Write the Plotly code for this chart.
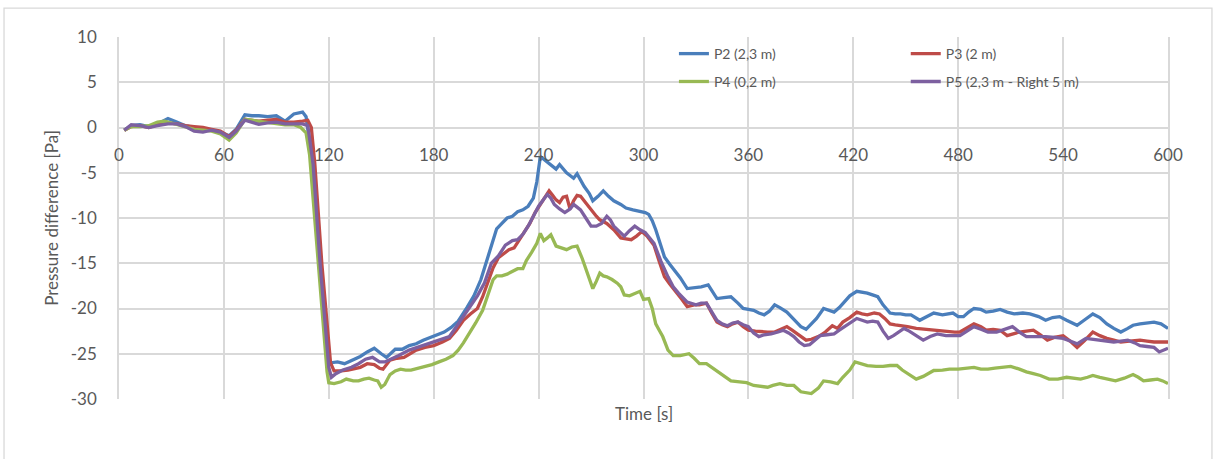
import plotly.graph_objects as go

# ---------------- data ----------------
t_p2 = [3, 7, 12, 17, 22, 28, 33, 38, 43, 48, 53, 58, 63, 67, 72, 76, 80, 85, 90, 95, 100, 105, 107, 110, 114, 119,
        121, 125, 129, 134, 138, 142, 146, 150, 153, 158, 162, 166, 170, 174, 178, 182, 186, 190, 194, 199, 203, 207,
        210, 213, 216, 219, 222, 225, 228, 231, 234, 237, 239, 241, 243, 246, 248, 250, 252, 254, 256, 258, 260, 262,
        264, 266, 269, 271, 274, 277, 280, 283, 287, 290, 294, 298, 301, 303, 305, 307, 310, 312, 315, 318, 321, 325,
        329, 333, 337, 340, 342, 346, 350, 354, 357, 360, 363, 366, 369, 372, 375, 378, 382, 386, 390, 393, 396, 399,
        403, 406, 409, 412, 415, 418, 422, 425, 428, 431, 434, 437, 441, 444, 447, 450, 453, 458, 462, 466, 471, 474,
        477, 480, 483, 486, 489, 493, 496, 500, 504, 508, 512, 517, 521, 526, 530, 534, 538, 542, 545, 548, 552, 557,
        561, 565, 569, 573, 577, 580, 584, 588, 592, 596, 600]
p2 = [-0.3, 0.2, 0.3, 0.1, 0.4, 1.0, 0.6, 0.2, 0.0, -0.3, -0.3, -0.5, -0.9, -0.2, 1.4, 1.3, 1.3, 1.2, 1.3, 0.7, 1.5,
      1.7, 1.2, -3.0, -14.0, -25.5,
      -26.0, -25.9, -26.1, -25.7, -25.3, -24.8, -24.4, -25.0, -25.4, -24.5, -24.5, -24.1, -23.9, -23.5, -23.2, -22.9,
      -22.6, -22.1, -21.4, -19.9, -18.6, -16.8,
      -15.0, -13.0, -11.2, -10.6, -10.0, -9.8, -9.3, -9.1, -8.7, -7.8, -6.0, -3.2, -3.5, -3.9, -4.3, -4.6, -4.1, -4.6,
      -5.0, -5.3, -5.6, -5.1,
      -5.8, -6.5, -7.3, -8.1, -7.6, -7.0, -7.6, -8.1, -8.5, -8.9, -9.1, -9.3, -9.4, -9.6, -10.3, -11.3, -13.0, -14.3,
      -15.1, -15.8, -16.6, -17.8,
      -17.7, -17.6, -17.4, -18.3, -18.9, -18.8, -18.7, -19.4, -20.0, -20.1, -20.2, -20.5, -20.7, -20.3, -19.6, -19.9,
      -20.4, -21.2, -22.0, -22.3, -21.7, -21.1,
      -20.0, -20.2, -20.4, -19.9, -19.3, -18.6, -18.1, -18.2, -18.3, -18.5, -18.7, -19.6, -20.5, -20.6, -20.6, -20.7,
      -20.7, -21.3, -20.9, -20.5, -20.7, -20.6,
      -20.5, -20.9, -20.9, -20.4, -20.0, -20.1, -20.4, -20.3, -20.1, -20.4, -20.6, -20.5, -20.6, -20.9, -21.3, -21.0,
      -20.9, -21.3, -21.6, -21.85, -21.3, -20.6,
      -21.0, -21.7, -22.2, -22.6, -22.2, -21.85, -21.7, -21.6, -21.5, -21.7, -22.2]

t_p3 = [3, 7, 12, 17, 22, 28, 33, 38, 43, 48, 53, 58, 63, 67, 72, 76, 80, 85, 90, 95, 100, 105, 108, 110, 112, 116,
        121, 123, 127, 131, 135, 138, 142, 146, 149, 151, 155, 159, 163, 167, 170, 175, 180, 185, 189, 193, 197, 201,
        205, 208, 211, 214, 217, 220, 223, 226, 229, 232, 235, 238, 241, 244, 246, 248, 250, 252, 254, 256, 258, 260,
        262, 264, 266, 268, 271, 273, 275, 279, 283, 287, 290, 293, 296, 299, 302, 306, 309, 312, 315, 318, 322, 325,
        329, 332, 336, 339, 342, 345, 348, 351, 354, 357, 360, 364, 368, 371, 375, 379, 382, 385, 388, 391, 393, 396,
        401, 404, 408, 411, 414, 418, 422, 425, 428, 432, 435, 438, 441, 444, 447, 451, 456, 461, 466, 470, 474, 478,
        481, 485, 489, 493, 496, 500, 504, 508, 512, 515, 519, 523, 527, 531, 535, 540, 544, 548, 552, 557, 561, 565,
        569, 573, 578, 584, 588, 592, 596, 600]
p3 = [-0.3, 0.1, 0.2, 0.0, 0.3, 0.5, 0.4, 0.2, 0.1, 0.0, -0.2, -0.4, -1.0, -0.3, 0.9, 0.8, 0.7, 0.8, 0.9, 0.6, 0.6,
      0.7, 0.8, 0.0, -4.0, -15.0,
      -26.0, -26.9, -26.9, -26.8, -26.6, -26.5, -26.1, -26.2, -26.6, -26.7, -25.7, -25.5, -25.4, -24.9, -24.6, -24.3,
      -24.1, -23.7, -23.3, -22.4, -21.3, -20.6,
      -20.0, -18.7, -17.0, -15.5, -14.4, -13.9, -13.5, -13.3, -12.4, -11.5, -10.6, -9.4, -8.5, -7.5, -7.0, -7.5,
      -8.0, -8.3, -7.7, -7.6, -9.0, -8.1,
      -7.5, -7.6, -8.1, -8.5, -9.4, -9.8, -10.2, -10.6, -11.3, -12.2, -12.3, -12.4, -12.0, -11.5, -12.0, -13.0,
      -14.8, -16.5, -17.3, -18.0, -19.0, -19.8,
      -19.6, -19.6, -19.4, -20.5, -21.5, -21.8, -22.0, -21.7, -21.5, -22.0, -22.4, -22.5, -22.6, -22.6, -22.6, -22.3,
      -22.0, -22.4, -22.8, -23.3, -23.5, -23.4,
      -23.0, -22.6, -21.9, -22.2, -21.5, -21.0, -20.4, -20.6, -20.7, -20.5, -20.6, -21.1, -21.7, -21.8, -21.85,
      -22.0, -22.2, -22.3, -22.4, -22.5, -22.6, -22.6,
      -22.6, -22.1, -21.7, -22.0, -22.4, -22.3, -22.4, -23.0, -22.8, -22.6, -22.5, -22.4, -22.9, -23.5, -23.2,
      -23.0, -23.6, -24.3, -23.6, -22.6, -23.0, -23.3,
      -23.5, -23.7, -23.6, -23.5, -23.6, -23.7, -23.7, -23.7]

t_p4 = [3, 7, 12, 17, 22, 26, 30, 34, 38, 43, 48, 53, 58, 63, 67, 72, 76, 80, 85, 90, 95, 100, 104, 107, 109, 114,
        119, 120, 123, 127, 130, 134, 137, 140, 143, 146, 148, 150, 152, 155, 158, 161, 164, 167, 171, 175, 179, 183,
        187, 191, 194, 197, 200, 204, 208, 211, 214, 216, 219, 222, 225, 228, 231, 233, 236, 239, 241, 243, 245, 247,
        250, 253, 256, 259, 262, 265, 268, 271, 273, 275, 277, 279, 282, 285, 287, 289, 292, 295, 298, 300, 303, 305,
        307, 309, 311, 314, 317, 321, 326, 329, 332, 336, 339, 342, 346, 350, 355, 359, 363, 367, 371, 374, 378, 382,
        386, 390, 393, 396, 400, 403, 407, 411, 414, 418, 421, 424, 428, 433, 437, 441, 445, 448, 451, 456, 460, 466,
        471, 475, 480, 485, 489, 493, 497, 501, 505, 510, 515, 519, 523, 527, 532, 537, 542, 546, 550, 554, 557, 561,
        565, 570, 575, 580, 583, 586, 590, 594, 597, 600]
p4 = [-0.3, 0.1, 0.1, 0.2, 0.6, 0.7, 0.5, 0.3, 0.1, -0.2, -0.3, -0.4, -0.7, -1.4, -0.6, 0.9, 0.8, 0.7, 0.6, 0.5,
      0.3, 0.3, 0.0, -0.6, -3.0, -15.0,
      -27.0, -28.2, -28.3, -28.1, -27.8, -28.0, -28.0, -27.8, -27.7, -27.9, -28.0, -28.7, -28.4, -27.3, -26.9, -26.7,
      -26.8, -26.8, -26.6, -26.4, -26.2, -25.9,
      -25.6, -25.2, -24.6, -23.8, -22.9, -21.6, -20.2, -18.6, -16.8, -16.4, -16.4, -16.2, -15.9, -15.6, -15.6,
      -14.7, -13.8, -12.8, -11.7, -12.5, -12.2, -11.85,
      -13.1, -13.3, -13.5, -13.2, -13.1, -14.5, -16.1, -17.8, -17.0, -16.1, -16.4, -16.5, -16.8, -17.2, -17.6,
      -18.5, -18.6, -18.3, -18.1, -19.0, -18.9, -20.0,
      -21.7, -22.4, -23.1, -24.6, -25.2, -25.2, -25.0, -25.5, -26.1, -26.1, -26.5, -27.0, -27.5, -28.0, -28.1,
      -28.2, -28.5, -28.6, -28.7, -28.5, -28.3, -28.5,
      -28.5, -29.2, -29.3, -29.4, -28.8, -28.0, -28.1, -28.3, -27.6, -26.8, -25.9, -26.1, -26.3, -26.4, -26.4,
      -26.3, -26.3, -26.8, -27.2, -27.8, -27.5, -26.85,
      -26.8, -26.7, -26.7, -26.6, -26.5, -26.7, -26.7, -26.6, -26.5, -26.4, -26.7, -27.0, -27.2, -27.4, -27.8,
      -27.8, -27.6, -27.7, -27.8, -27.6, -27.4, -27.6,
      -27.8, -28.0, -27.7, -27.3, -27.6, -28.0, -27.9, -27.8, -28.0, -28.3]

t_p5 = [3, 7, 12, 17, 22, 28, 33, 38, 43, 48, 53, 58, 63, 67, 72, 76, 80, 85, 90, 95, 100, 105, 108, 111, 115, 120,
        121.5, 124, 128, 133, 137, 141, 145, 149, 152, 155, 160, 166, 172, 177, 183, 189, 193, 197, 201, 205, 209,
        213, 217, 221, 225, 228, 231, 234, 237, 240, 243, 245, 247, 249, 252, 255, 258, 260, 262, 264, 267, 270, 273,
        276, 279, 281, 283, 286, 289, 292, 295, 298, 301, 306, 310, 314, 317, 320, 325, 330, 333, 336, 339, 342, 345,
        348, 351, 354, 357, 360, 363, 366, 369, 373, 377, 380, 383, 386, 389, 392, 395, 398, 401, 405, 409, 412, 415,
        419, 422, 425, 428, 431, 434, 437, 440, 443, 446, 449, 452, 456, 460, 464, 468, 473, 477, 481, 485, 489, 493,
        497, 502, 506, 511, 515, 519, 525, 530, 535, 540, 544, 548, 553, 557, 561, 565, 569, 573, 577, 581, 584, 588,
        592, 595, 598, 600]
p5 = [-0.3, 0.3, 0.2, 0.0, 0.2, 0.4, 0.4, 0.1, -0.4, -0.5, -0.3, -0.5, -1.1, -0.4, 0.8, 0.6, 0.35, 0.5, 0.6, 0.4,
      0.4, 0.4, 0.2, -4.0, -15.0, -26.5,
      -27.6, -27.2, -26.8, -26.5, -26.1, -25.6, -25.4, -25.9, -25.9, -25.6, -25.2, -24.6, -24.2, -23.9, -23.5, -23.1,
      -22.0, -20.9, -19.8, -18.6, -17.2,
      -15.0, -14.2, -13.0, -12.5, -12.4, -11.8, -10.9, -9.8, -8.7, -7.9, -7.4, -7.8, -8.5, -9.0, -9.4, -9.0, -8.5,
      -8.8, -9.1, -10.0, -10.9, -10.9,
      -10.6, -9.8, -10.2, -10.9, -11.5, -12.0, -11.4, -10.9, -11.3, -11.6, -12.8, -14.8, -16.5, -17.6, -18.3, -19.3,
      -19.6, -19.4, -19.4, -20.3, -21.3, -21.7,
      -21.9, -21.6, -21.5, -21.8, -22.0, -22.7, -23.1, -22.9, -22.8, -22.6, -22.4, -22.7, -23.1, -23.7, -24.1, -24.0,
      -23.5, -23.0, -22.9, -22.8, -22.4, -22.0,
      -21.5, -21.1, -21.3, -21.5, -21.4, -21.5, -22.5, -23.3, -23.0, -22.6, -22.2, -22.5, -23.0, -23.5, -23.1,
      -22.8, -23.0, -23.0, -23.0, -22.5, -22.0, -22.3,
      -22.6, -22.6, -22.3, -22.0, -22.6, -23.1, -23.1, -23.1, -23.2, -23.3, -23.6, -23.9, -23.3, -23.4, -23.5,
      -23.6, -23.7, -23.6, -23.5, -23.8, -24.1, -24.2,
      -24.3, -24.8, -24.5, -24.4]

series_names = ["P2 (2,3 m)", "P3 (2 m)", "P4 (0,2 m)", "P5 (2,3 m - Right 5 m)"]
series_colors = ["#4A7EBB", "#BE4B48", "#98B954", "#7D60A0"]
x_ticks = [0, 60, 120, 180, 240, 300, 360, 420, 480, 540, 600]
y_ticks = [-30, -25, -20, -15, -10, -5, 0, 5, 10]

# ---------------- figure ----------------
fig = go.Figure()
all_t = [t_p2, t_p3, t_p4, t_p5]
all_v = [p2, p3, p4, p5]
legend_ids = ["legend", "legend2", "legend3", "legend4"]
for name, col, tt, vv, lg in zip(series_names, series_colors, all_t, all_v, legend_ids):
    fig.add_trace(go.Scatter(x=tt, y=vv, mode="lines", name=name, legend=lg,
                             line=dict(color=col, width=3.3, shape="linear")))

grid = "#D9D9D9"
txt = "#595959"
fnt = "Lato"

fig.update_layout(
    width=1214, height=459,
    margin=dict(l=119, r=46, t=37, b=60),
    plot_bgcolor="white", paper_bgcolor="white",
    font=dict(family=fnt, color=txt, size=17),
    showlegend=True,
    xaxis=dict(range=[0, 600], tickvals=x_ticks, ticktext=[str(v) for v in x_ticks],
               showgrid=True, gridcolor=grid, gridwidth=1.5,
               anchor="free", position=0.75, showline=False, zeroline=False,
               ticks="outside", ticklen=12, tickcolor="rgba(0,0,0,0)",
               tickfont=dict(size=17, color=txt, family=fnt)),
    yaxis=dict(range=[-30, 10], tickvals=y_ticks, ticktext=[str(v) for v in y_ticks],
               showgrid=True, gridcolor=grid, gridwidth=1.5,
               showline=True, linecolor=grid, linewidth=1.5, mirror=True, zeroline=False,
               ticks="outside", ticklen=17, tickcolor="rgba(0,0,0,0)",
               tickfont=dict(size=17, color=txt, family=fnt),
               title=dict(text="Pressure difference [Pa]", standoff=8,
                          font=dict(size=17, color=txt, family=fnt))),
    annotations=[dict(text="Time [s]", x=0.5, y=-0.039, xref="paper", yref="paper",
                      xanchor="center", yanchor="middle", showarrow=False,
                      font=dict(size=17, color=txt, family=fnt))],
    shapes=[dict(type="rect", xref="paper", yref="paper", x0=-0.1096, x1=1.0419, y0=-0.4, y1=1.080,
                 line=dict(color=grid, width=1.3), layer="below")],
)

leg_common = dict(font=dict(size=14, color=txt, family=fnt), bgcolor="rgba(0,0,0,0)",
                  xanchor="left", yanchor="middle", orientation="v")
fig.update_layout(
    legend=dict(x=0.529, y=0.953, **leg_common),
    legend2=dict(x=0.750, y=0.953, **leg_common),
    legend3=dict(x=0.529, y=0.876, **leg_common),
    legend4=dict(x=0.750, y=0.876, **leg_common),
)

fig.write_html("out.html", config={"displayModeBar": False},
               post_script="document.body.style.margin='0';document.body.style.padding='0';")
